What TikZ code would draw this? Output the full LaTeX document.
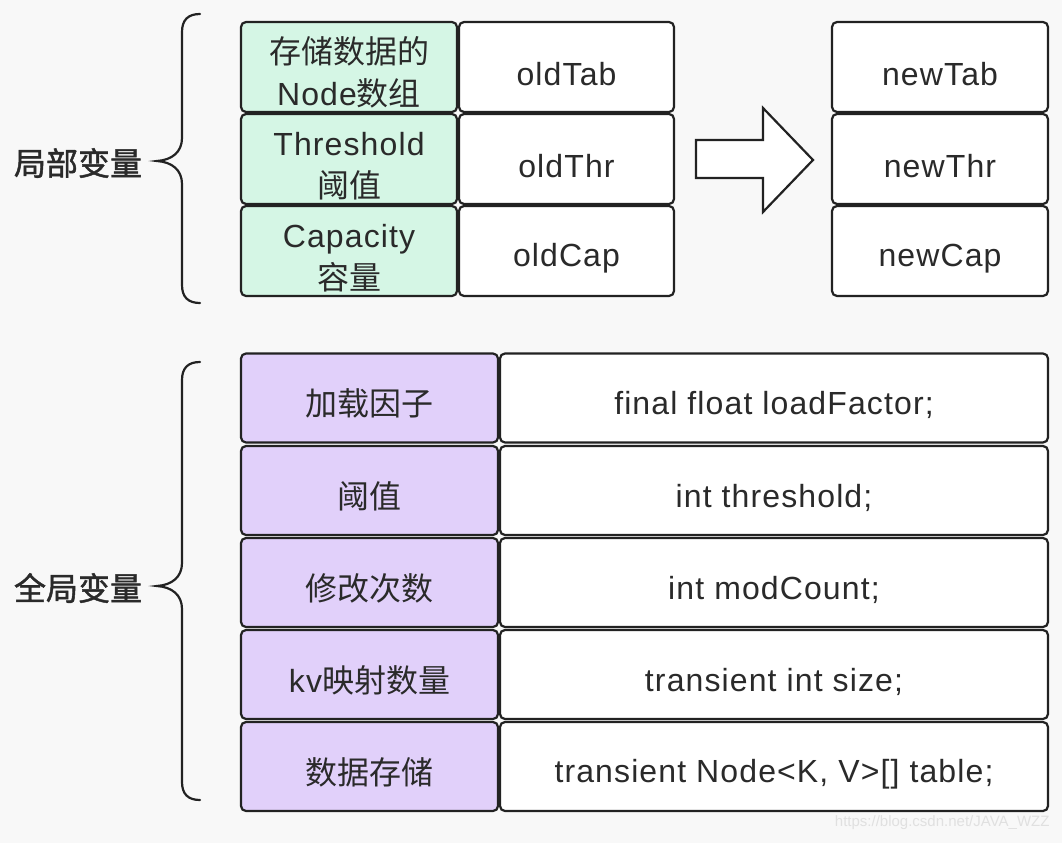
\documentclass[tikz,border=0pt]{standalone}
\usepackage{fontspec}
\setmainfont[LetterSpace=3.5]{Liberation Sans}
\newfontfamily\plainsans{Liberation Sans}
\newfontfamily\cjk{Noto Sans CJK SC}
\newfontfamily\cjkmed[FakeBold=1.4]{Noto Sans CJK SC}
\definecolor{bg}{HTML}{F8F8F8}
\definecolor{mint}{HTML}{D5F6E5}
\definecolor{lilac}{HTML}{E1D0FA}
\definecolor{ink}{HTML}{222222}
\definecolor{txt}{HTML}{2A2A2A}
\definecolor{wm}{HTML}{E0E0E0}
\begin{document}
\begin{tikzpicture}[x=1pt,y=-1pt,
  cell/.style={draw=ink, line width=2.2pt, rounded corners=5pt, inner sep=0pt,
    align=center, text=txt, font=\fontsize{32}{42}\selectfont,
    execute at begin node={\rule{0pt}{38pt}}},
  greencell/.style={cell, fill=mint, minimum width=216pt, minimum height=90pt,
    execute at begin node={}, text height=82pt, text depth=6pt},
  oldcell/.style={cell, fill=white, minimum width=215pt, minimum height=90pt},
  newcell/.style={cell, fill=white, minimum width=216pt, minimum height=90pt},
  lilaccell/.style={cell, fill=lilac, minimum width=257pt, minimum height=89pt},
  codecell/.style={cell, fill=white, minimum width=548pt, minimum height=89pt},
  bracepath/.style={draw=ink, line width=2.2pt, line cap=round},
  grouplabel/.style={text=txt, font=\fontsize{32}{36}\selectfont\cjkmed}]
\fill[bg] (0,0) rectangle (1062,843);
\useasboundingbox (0,0) rectangle (1062,843);
% local variables
\node[greencell] (g1) at (349,67) {{\cjk 存储数据的}\\Node{\cjk 数组}};
\node[greencell] (g2) at (349,159) {Threshold\\{\cjk 阈值}};
\node[greencell] (g3) at (349,251) {Capacity\\{\cjk 容量}};
\node[oldcell] (o1) at (566.5,67) {oldTab};
\node[oldcell] (o2) at (566.5,159) {oldThr};
\node[oldcell] (o3) at (566.5,251) {oldCap};
\node[newcell] (n1) at (940,67) {newTab};
\node[newcell] (n2) at (940,159) {newThr};
\node[newcell] (n3) at (940,251) {newCap};
% block arrow
\draw[draw=ink, line width=2.2pt, fill=white, line join=miter]
  (696,140) -- (763,140) -- (763,108) -- (813,160) -- (763,212) -- (763,178) -- (696,178) -- cycle;
% brace + label
\draw[bracepath] (200,14) .. controls (188,14) and (182,20) .. (182,32) -- (182,138)
  .. controls (182,152) and (172,160) .. (157,161)
  .. controls (172,162) and (182,170) .. (182,184) -- (182,285)
  .. controls (182,297) and (188,303) .. (200,303);
\node[grouplabel] (lv) at (78,163) {局部变量};
% global variables
\node[lilaccell] (p1) at (369.5,398) {\cjk 加载因子};
\node[lilaccell] (p2) at (369.5,490.5) {\cjk 阈值};
\node[lilaccell] (p3) at (369.5,582.5) {\cjk 修改次数};
\node[lilaccell] (p4) at (369.5,674.5) {kv{\cjk 映射数量}};
\node[lilaccell] (p5) at (369.5,766.5) {\cjk 数据存储};
\node[codecell] (c1) at (774,398) {final float loadFactor;};
\node[codecell] (c2) at (774,490.5) {int threshold;};
\node[codecell] (c3) at (774,582.5) {int modCount;};
\node[codecell] (c4) at (774,674.5) {transient int size;};
\node[codecell] (c5) at (774,766.5) {transient Node<K, V>[] table;};
\draw[bracepath] (200,362) .. controls (188,362) and (182,368) .. (182,380) -- (182,563)
  .. controls (182,577) and (172,585) .. (157,586)
  .. controls (172,587) and (182,595) .. (182,609) -- (182,782)
  .. controls (182,794) and (188,800) .. (200,800);
\node[grouplabel] (gv) at (78,588) {全局变量};
% watermark
\node[text=wm, font=\fontsize{15}{18}\selectfont\plainsans, anchor=east] (wmk) at (1053,823) {https://blog.csdn.net/JAVA\_WZZ};
\end{tikzpicture}
\end{document}
